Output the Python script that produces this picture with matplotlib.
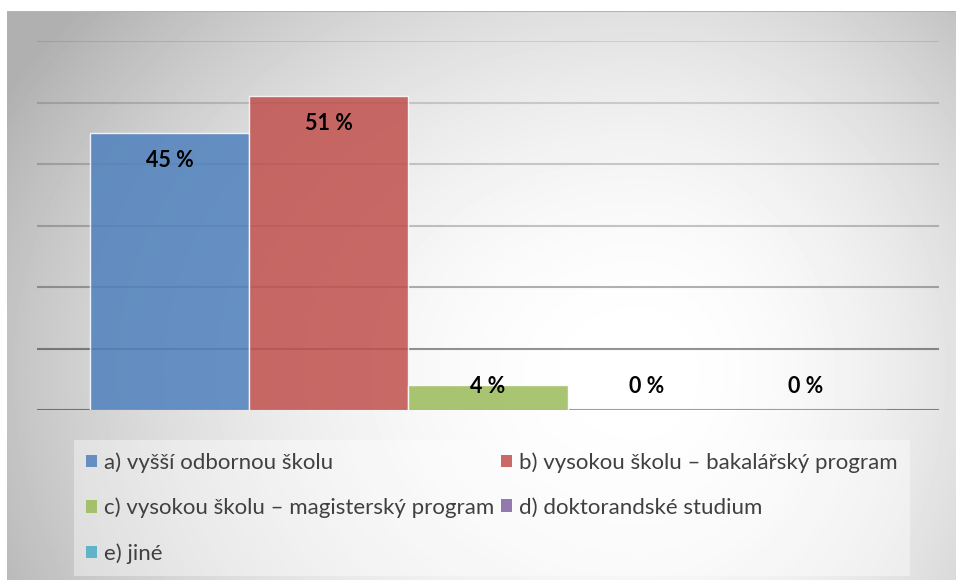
import numpy as np
import matplotlib.pyplot as plt
from matplotlib.patches import Patch

# data
labels = [
    "a) vyšší odbornou školu",
    "b) vysokou školu – bakalářský program",
    "c) vysokou školu – magisterský program",
    "d) doktorandské studium",
    "e) jiné",
]
values = [45, 51, 4, 0, 0]
colors = ["#4F81BD", "#C0504D", "#9BBB59", "#8064A2", "#4BACC6"]
grid_levels = [0, 10, 20, 30, 40, 50, 60]
grid_alpha = [0.45, 0.42, 0.3, 0.22, 0.18, 0.15, 0.1]

W, H = 956, 580
fig = plt.figure(figsize=(W / 100, H / 100), dpi=100)
fig.patch.set_facecolor("white")

# chart area background (radial-ish gradient)
bx0, by0 = 7, 11
bg = fig.add_axes([bx0 / W, 0, (W - bx0) / W, (H - by0) / H])
bg.set_zorder(0)
xs = np.arange(bx0, W)
ys = np.arange(by0, H)
X, Y = np.meshgrid(xs, ys)
cx, cy = 640, 370
rx = np.where(X < cx, 640, 460)
ry = np.where(Y < cy, 500, 540)
r2 = ((X - cx) / rx) ** 2 + ((Y - cy) / ry) ** 2
img = 1 - 0.24 * np.clip(r2, 0, 1.3)
bg.imshow(img, cmap="gray", vmin=0, vmax=1, aspect="auto", interpolation="bilinear")
bg.set_axis_off()
bg.axhline(-0.5, color="#b4b4b4", lw=1.5)

# plot area
ax = fig.add_axes([37 / W, (H - 410) / H, 902 / W, 369 / H])
ax.set_zorder(1)
ax.patch.set_visible(False)
for lvl, a in zip(grid_levels, grid_alpha):
    ax.axhline(lvl, color="black", alpha=a, lw=1.5, zorder=1)

pos = np.arange(len(values))
ax.bar(pos, values, width=1.0, color=colors, alpha=0.85,
       edgecolor=(1, 1, 1, 0.5), linewidth=1, zorder=2)
for p, v in zip(pos, values):
    ax.text(p, max(v - 4.4, 3.9), f"{v} %", ha="center", va="center",
            fontsize=15.5, fontweight="bold", family=["Lato", "DejaVu Sans"],
            zorder=3)

margin = 0.336
ax.set_xlim(-0.5 - margin, len(values) - 0.5 + margin)
ax.set_ylim(0, 60)
ax.set_axis_off()

# legend, row-major order in two columns
handles = [Patch(facecolor=c, alpha=0.85, edgecolor="none") for c in colors]
order = [0, 2, 4, 1, 3]
leg = fig.legend([handles[i] for i in order], [labels[i] for i in order],
                 ncol=2, loc="upper left", bbox_to_anchor=(74 / W, 1 - 440 / H),
                 borderaxespad=0,
                 prop={"family": ["Lato", "DejaVu Sans"], "size": 16},
                 frameon=True, fancybox=False, borderpad=0.55,
                 handlelength=0.5, handleheight=0.5, handletextpad=0.3,
                 columnspacing=0.3, labelspacing=1.12, labelcolor="#404040")
leg.get_frame().set_facecolor("white")
leg.get_frame().set_alpha(0.4)
leg.get_frame().set_edgecolor("none")
leg.set_zorder(5)

fig.savefig("out.png", dpi=100)
